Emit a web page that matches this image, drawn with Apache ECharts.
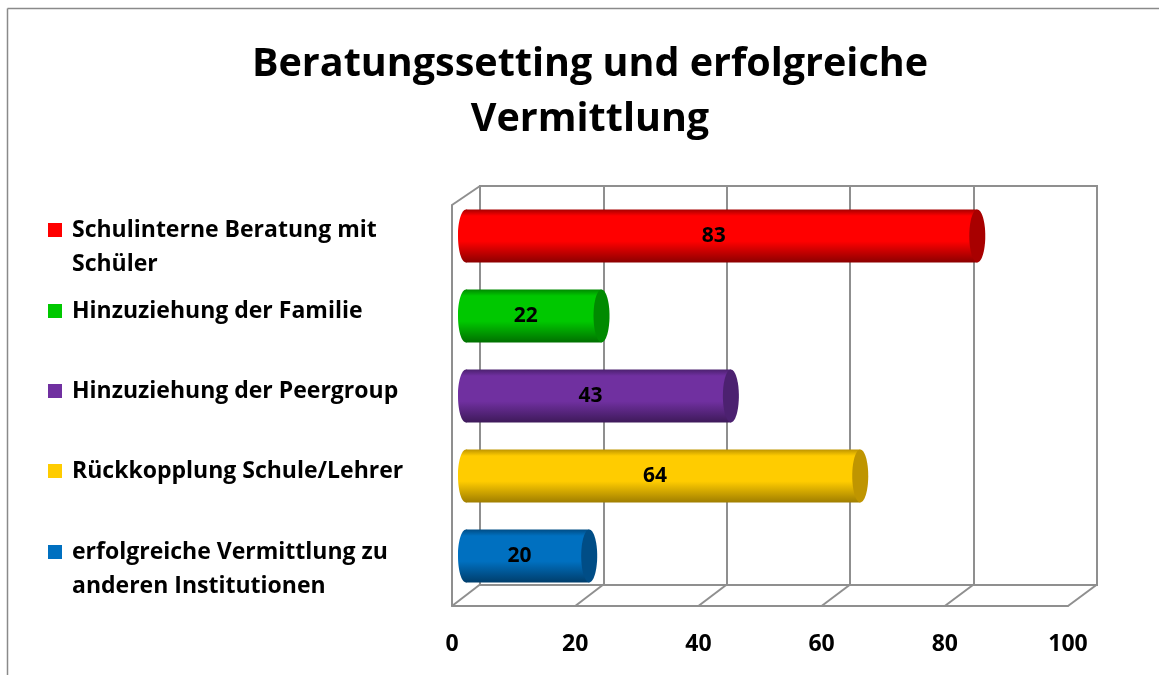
<!DOCTYPE html>
<html>
<head>
<meta charset="utf-8">
<script src="https://cdn.jsdelivr.net/npm/echarts@6/dist/echarts.min.js"></script>
<style>
  html, body { margin: 0; padding: 0; background: #fff; }
  #chart { width: 1159px; height: 675px; }
</style>
</head>
<body>
<div id="chart"></div>
<script>
const categories = [
  'Schulinterne Beratung mit Schüler',
  'Hinzuziehung der Familie',
  'Hinzuziehung der Peergroup',
  'Rückkopplung Schule/Lehrer',
  'erfolgreiche Vermittlung zu anderen Institutionen'
]
const legendLabels = [
  'Schulinterne Beratung mit\nSchüler',
  'Hinzuziehung der Familie',
  'Hinzuziehung der Peergroup',
  'Rückkopplung Schule/Lehrer',
  'erfolgreiche Vermittlung zu\nanderen Institutionen'
]
const values = [83, 22, 43, 64, 20]
const colors = ['#FF0000', '#00C800', '#7030A0', '#FFCC00', '#0070C0']
const darkColors = ['#8C0000', '#007000', '#3E1A5A', '#A07E00', '#003E6C']
const capColors = ['#A80000', '#008A00', '#4C2170', '#BF9500', '#004D86']
const xTicks = [0, 20, 40, 60, 80, 100]

const FONT = '"Open Sans"'
const GRAY = '#8f8f8f'

const chart = echarts.init(document.getElementById('chart'))

const renderCylinder = (params, api) => {
  const i = params.seriesIndex
  const val = api.value(0)
  const cat = api.value(1)
  const p0 = api.coord([0, cat])
  const p1 = api.coord([val, cat])
  const band = api.size([0, 1])[1]
  const h = band * 0.66
  const rx = 8
  const grad = () => new echarts.graphic.LinearGradient(0, 0, 0, 1, [
    { offset: 0, color: capColors[i] },
    { offset: 0.12, color: colors[i] },
    { offset: 0.6, color: colors[i] },
    { offset: 1, color: darkColors[i] }
  ])
  return {
    type: 'group',
    children: [
      { type: 'ellipse', shape: { cx: p0[0], cy: p0[1], rx, ry: h / 2 }, style: { fill: grad() } },
      { type: 'rect', shape: { x: p0[0], y: p0[1] - h / 2, width: p1[0] - p0[0], height: h }, style: { fill: grad() } },
      { type: 'ellipse', shape: { cx: p1[0], cy: p1[1], rx, ry: h / 2 }, style: { fill: capColors[i] } },
      {
        type: 'text',
        style: {
          text: String(val),
          x: (p0[0] + p1[0]) / 2 - rx,
          y: p0[1],
          align: 'center',
          verticalAlign: 'middle',
          font: 'bold 21px ' + FONT,
          fill: '#000'
        }
      }
    ]
  }
}

const option = {
  animation: false,
  title: {
    text: 'Beratungssetting und erfolgreiche\nVermittlung',
    left: 585,
    textAlign: 'center',
    top: 32,
    textStyle: { fontFamily: FONT, fontSize: 39.5, fontWeight: 'bold', color: '#000', lineHeight: 55 }
  },
  grid: [
    { left: 466, top: 196, width: 616, height: 400 },
    { left: 480, top: 186, width: 617, height: 399, show: true, borderColor: GRAY, borderWidth: 2, backgroundColor: 'transparent' },
    { left: 452, top: 205, width: 616, height: 401 }
  ],
  xAxis: [
    { gridIndex: 0, type: 'value', min: 0, max: 100, show: false },
    {
      gridIndex: 1, type: 'value', min: 0, max: 100, interval: 20,
      axisLine: { show: false }, axisTick: { show: false }, axisLabel: { show: false },
      splitLine: { show: true, lineStyle: { color: GRAY, width: 2 } }
    },
    {
      gridIndex: 2, type: 'value', min: 0, max: 100, interval: 20,
      axisLine: { show: true, lineStyle: { color: GRAY, width: 2 } },
      axisTick: { show: false },
      splitLine: { show: false },
      axisLabel: { margin: 27, fontFamily: FONT, fontSize: 23, fontWeight: 'bold', color: '#000' }
    }
  ],
  yAxis: [
    { gridIndex: 0, type: 'category', data: categories, inverse: true, show: false },
    { gridIndex: 1, type: 'value', show: false },
    {
      gridIndex: 2, type: 'category', data: categories, inverse: true,
      axisLine: { show: true, lineStyle: { color: GRAY, width: 2 } },
      axisTick: { show: false }, axisLabel: { show: false }, splitLine: { show: false }
    }
  ],
  series: categories.map((name, i) => ({
    name,
    type: 'custom',
    xAxisIndex: 0,
    yAxisIndex: 0,
    z: 5,
    itemStyle: { color: colors[i] },
    renderItem: renderCylinder,
    data: [[values[i], i]]
  }))
}

chart.setOption(option)

// 3D frame: depth lines joining back wall and front floor
const backBottom = 185.5 + 399
const frontBottom = 205 + 401
const depthLines = xTicks.map(v => {
  const xb = chart.convertToPixel({ xAxisIndex: 1 }, v)
  const xf = chart.convertToPixel({ xAxisIndex: 2 }, v)
  return {
    type: 'line',
    shape: { x1: xb, y1: backBottom, x2: xf, y2: frontBottom },
    style: { stroke: GRAY, lineWidth: 2 }
  }
})
const xb0 = chart.convertToPixel({ xAxisIndex: 1 }, 0)
const xf0 = chart.convertToPixel({ xAxisIndex: 2 }, 0)

// legend block on the left, square aligned with the first text line
const legendY = [230, 311, 391, 471, 552]
const legendItems = legendLabels.map((label, i) => ({
  type: 'group',
  x: 48,
  y: legendY[i],
  children: [
    { type: 'rect', shape: { x: 0, y: -7, width: 14, height: 14 }, style: { fill: colors[i] } },
    {
      type: 'text',
      x: 24,
      y: -17,
      style: { text: label, font: 'bold 23px ' + FONT, lineHeight: 34, fill: '#000', verticalAlign: 'top' }
    }
  ]
}))

chart.setOption({
  graphic: [
    ...depthLines,
    { type: 'line', shape: { x1: xb0, y1: 186, x2: xf0, y2: 205 }, style: { stroke: GRAY, lineWidth: 2 } },
    { type: 'line', shape: { x1: 7.5, y1: 8.5, x2: 1159, y2: 8.5 }, style: { stroke: '#8a8a8a', lineWidth: 1.5 } },
    { type: 'line', shape: { x1: 7.5, y1: 8.5, x2: 7.5, y2: 675 }, style: { stroke: '#8a8a8a', lineWidth: 1.5 } },
    ...legendItems
  ]
})

window.addEventListener('resize', () => chart.resize())
</script>
</body>
</html>
